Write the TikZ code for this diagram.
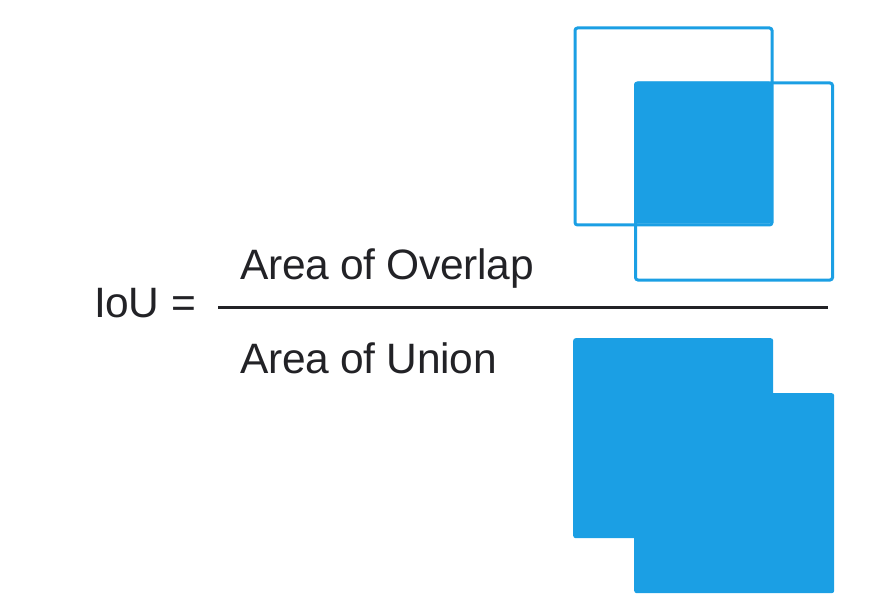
\documentclass[tikz,border=0pt]{standalone}
\usepackage{fontspec}
\setmainfont{Liberation Sans}[LetterSpace=-0.8]
\usepackage{xcolor}
\usepackage{tikz}
\definecolor{ioublue}{RGB}{27,159,228}
\definecolor{inkgray}{RGB}{34,34,38}
\tikzset{%
    every label text/.style={
            inner sep=0pt,
            anchor=base west,
            text=inkgray,
            font=\fontsize{42.5}{50}\selectfont
        },
    box outline/.style={
            draw=ioublue,
            line width=3pt,
            rounded corners=2.5pt,
            inner sep=0pt,
            minimum size=197pt
        },
    box filled/.style={
            fill=ioublue,
            rounded corners=2.5pt,
            inner sep=0pt
        },
}

\begin{document}
\begin{tikzpicture}[x=1pt, y=-1pt]

        \useasboundingbox (0,0) rectangle (870,604);

        % the two boxes, then their overlap
        \foreach \m/\cx/\cy in {a/673.5/126.5, b/734/181.5}
        \node [box outline] (box-\m) at (\cx,\cy) {};

        \node [box filled, minimum width=137pt, minimum height=142pt, anchor=north west]
        (overlap) at (box-b.north west) {};

        % the union
        \node [box filled, minimum size=200pt, anchor=north west] (union-a) at (573,338) {};
        \node [box filled, minimum size=200pt, anchor=north west] (union-b) at (634,393) {};

        % the formula
        \node [every label text] (iou) at (94,317) {IoU =};
        \node [every label text] (num) at (240,279) {Area of Overlap};
        \node [every label text] (den) at (240,373) {Area of Union};

        \coordinate (bar-l) at (218,307);
        \coordinate (bar-r) at (828,307);
        \draw [inkgray, line width=3pt] (bar-l) -- (bar-r);

    \end{tikzpicture}
\end{document}
